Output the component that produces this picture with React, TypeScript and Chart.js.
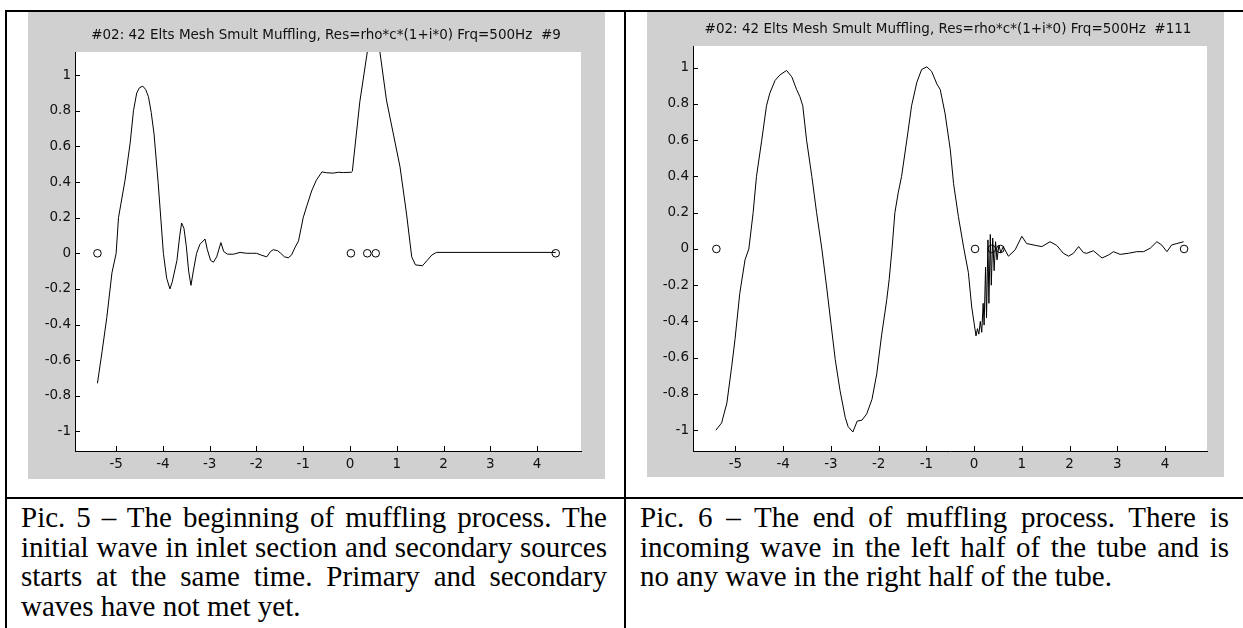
import React, { useEffect, useRef } from "react";
import { Chart, registerables } from "chart.js";

Chart.register(...registerables);

// ---------- data ----------
const Y_TICKS = [-1, -0.8, -0.6, -0.4, -0.2, 0, 0.2, 0.4, 0.6, 0.8, 1];
const X_TICKS = [-5, -4, -3, -2, -1, 0, 1, 2, 3, 4];

const SOURCE_X = [-5.4, 0.02, 0.37, 0.55, 4.4];
const SOURCE_Y = [0, 0, 0, 0, 0];

const LEFT_TITLE = "#02: 42 Elts Mesh Smult Muffling, Res=rho*c*(1+i*0) Frq=500Hz  #9";
const RIGHT_TITLE = "#02: 42 Elts Mesh Smult Muffling, Res=rho*c*(1+i*0) Frq=500Hz  #111";

const LEFT_X = [
  -5.4, -5.3, -5.2, -5.09, -5.0, -4.95, -4.81, -4.7, -4.63, -4.56, -4.5, -4.43, -4.37, -4.31,
  -4.25, -4.19, -4.1, -3.99, -3.92, -3.85, -3.8, -3.7, -3.64, -3.6, -3.55, -3.5, -3.45, -3.4,
  -3.35, -3.28, -3.21, -3.1, -3.05, -2.98, -2.92, -2.85, -2.76, -2.7, -2.62, -2.49, -2.35, -2.21,
  -2.1, -2.0, -1.9, -1.78, -1.7, -1.64, -1.55, -1.48, -1.4, -1.32, -1.25, -1.18, -1.1, -1.0,
  -0.93, -0.82, -0.72, -0.6, -0.5, -0.36, -0.25, -0.14, 0.03, 0.05, 0.21, 0.37, 0.5, 0.64, 0.78,
  1.07, 1.21, 1.32, 1.4, 1.55, 1.65, 1.75, 1.85, 4.4,
];
const LEFT_Y = [
  -0.73, -0.55, -0.36, -0.11, 0.0, 0.2, 0.41, 0.62, 0.8, 0.9, 0.93, 0.938, 0.92, 0.88,
  0.79, 0.67, 0.39, 0.0, -0.14, -0.2, -0.16, -0.04, 0.1, 0.17, 0.14, 0.04, -0.1, -0.18,
  -0.1, 0.0, 0.05, 0.08, 0.02, -0.04, -0.05, -0.02, 0.06, 0.01, -0.005, -0.005, 0.005, 0.0,
  0.0, 0.0, -0.01, -0.02, 0.01, 0.02, 0.015, 0.0, -0.02, -0.025, -0.01, 0.03, 0.07, 0.2,
  0.26, 0.35, 0.41, 0.457, 0.452, 0.45, 0.455, 0.453, 0.455, 0.46, 0.85, 1.13, 1.4, 1.13, 0.86,
  0.485, 0.22, -0.02, -0.065, -0.07, -0.04, -0.01, 0.005, 0.005,
];

const RIGHT_X = [
  -5.41, -5.29, -5.18, -5.08, -5.01, -4.91, -4.8, -4.72, -4.63, -4.56, -4.45, -4.35, -4.28, -4.17,
  -4.07, -3.93, -3.82, -3.72, -3.65, -3.59, -3.51, -3.4, -3.3, -3.19, -3.09, -3.0, -2.91, -2.81,
  -2.7, -2.64, -2.54, -2.45, -2.35, -2.25, -2.14, -2.04, -1.94, -1.83, -1.78, -1.72, -1.66, -1.59,
  -1.52, -1.41, -1.31, -1.2, -1.1, -0.99, -0.89, -0.78, -0.71, -0.61, -0.5, -0.43, -0.33, -0.22,
  -0.12, -0.05, 0.04, 0.07, 0.1, 0.13, 0.16, 0.19, 0.21, 0.24, 0.26, 0.29, 0.31, 0.34, 0.36,
  0.39, 0.42, 0.45, 0.48, 0.52, 0.56, 0.61, 0.72, 0.86, 1.0, 1.1, 1.28, 1.42, 1.59, 1.73, 1.87,
  1.98, 2.08, 2.19, 2.29, 2.36, 2.5, 2.68, 2.82, 2.92, 3.06, 3.23, 3.41, 3.55, 3.69, 3.83, 3.93,
  4.04, 4.14, 4.25, 4.39,
];
const RIGHT_Y = [
  -1.0, -0.96, -0.85, -0.65, -0.5, -0.245, -0.06, 0.0, 0.2, 0.4, 0.6, 0.79, 0.86, 0.93,
  0.96, 0.985, 0.95, 0.88, 0.84, 0.79, 0.6, 0.4, 0.2, 0.0, -0.21, -0.41, -0.61, -0.78,
  -0.93, -0.98, -1.01, -0.95, -0.945, -0.91, -0.83, -0.69, -0.48, -0.28, -0.17, 0.0, 0.2, 0.31,
  0.4, 0.6, 0.79, 0.92, 0.99, 1.005, 0.98, 0.91, 0.88, 0.75, 0.55, 0.36, 0.18, 0.01,
  -0.13, -0.32, -0.48, -0.44, -0.47, -0.4, -0.46, -0.3, -0.42, -0.1, -0.38, 0.05, -0.3, 0.08, -0.2,
  0.06, -0.12, 0.04, -0.06, 0.02, -0.02, 0.013, -0.04, -0.005, 0.07, 0.03, 0.02, 0.013, 0.04, 0.02, -0.024,
  -0.04, -0.024, 0.013, -0.02, -0.024, -0.01, -0.05, -0.033, -0.015, -0.03, -0.024, -0.015, -0.015, 0.004, 0.04, 0.022,
  -0.015, 0.022, 0.03, 0.04,
];

const CAPTION_LEFT = [
  "Pic. 5 – The beginning of muffling process. The",
  "initial wave in inlet section and secondary sources",
  "starts at the same time. Primary and secondary",
  "waves have not met yet.",
];
const CAPTION_RIGHT = [
  "Pic. 6 – The end of muffling process. There is",
  "incoming wave in the left half of the tube and is",
  "no any wave in the right half of the tube.",
];

// ---------- chart ----------
const SANS = "'DejaVu Sans', 'Liberation Sans', Arial, sans-serif";
const fmt = (v: number) => String(Math.round(v * 10) / 10);

type PlotProps = {
  title: string;
  xs: number[];
  ys: number[];
  xMin: number;
  xMax: number;
  yMin: number;
  yMax: number;
  left: number;
  top: number;
  width: number;
  height: number;
  padTop: number;
  padRight: number;
  yAxisW: number;
  xAxisH: number;
  titleY: number;
};

function Plot(p: PlotProps) {
  const ref = useRef<HTMLCanvasElement | null>(null);
  useEffect(() => {
    const canvas = ref.current;
    if (!canvas) return;
    const matlab = {
      id: "matlab",
      beforeDraw(chart: any) {
        const { ctx, chartArea: a } = chart;
        ctx.save();
        ctx.fillStyle = "#ffffff";
        ctx.fillRect(a.left, a.top, a.right - a.left, a.bottom - a.top);
        ctx.restore();
      },
      afterDraw(chart: any) {
        const { ctx, chartArea: a, scales } = chart;
        ctx.save();
        ctx.strokeStyle = "#000";
        ctx.lineWidth = 1;
        ctx.beginPath();
        for (const v of Y_TICKS) {
          const py = Math.round(scales.y.getPixelForValue(v)) + 0.5;
          ctx.moveTo(a.left, py);
          ctx.lineTo(a.left + 5, py);
        }
        for (const v of X_TICKS) {
          const px = Math.round(scales.x.getPixelForValue(v)) + 0.5;
          ctx.moveTo(px, a.bottom);
          ctx.lineTo(px, a.bottom - 5);
        }
        ctx.stroke();
        ctx.fillStyle = "#111";
        ctx.font = `13.5px ${SANS}`;
        ctx.textAlign = "center";
        ctx.textBaseline = "middle";
        ctx.fillText(p.title, (a.left + a.right) / 2 - 2, p.titleY);
        ctx.restore();
      },
    };
    const chart = new Chart(canvas, {
      type: "scatter",
      data: {
        datasets: [
          {
            data: p.xs.map((x, i) => ({ x, y: p.ys[i] })),
            showLine: true,
            borderColor: "#000",
            borderWidth: 1,
            pointRadius: 0,
            tension: 0,
          },
          {
            data: SOURCE_X.map((x, i) => ({ x, y: SOURCE_Y[i] })),
            showLine: false,
            borderColor: "#000",
            backgroundColor: "rgba(0,0,0,0)",
            borderWidth: 1,
            pointRadius: 3.8,
          },
        ],
      },
      options: {
        animation: false,
        responsive: false,
        maintainAspectRatio: false,
        events: [],
        layout: { padding: { top: p.padTop, right: p.padRight, left: 0, bottom: 0 } },
        plugins: { legend: { display: false }, tooltip: { enabled: false }, title: { display: false } },
        scales: {
          x: {
            type: "linear",
            min: p.xMin,
            max: p.xMax,
            afterBuildTicks: (s: any) => {
              s.ticks = X_TICKS.map((v) => ({ value: v }));
            },
            afterFit: (s: any) => {
              s.height = p.xAxisH;
            },
            grid: { display: false, drawTicks: false },
            border: { display: true, color: "#000", width: 1 },
            ticks: {
              padding: 5,
              color: "#111",
              autoSkip: false,
              maxRotation: 0,
              font: { family: SANS, size: 13.5 },
              callback: (v: any) => fmt(Number(v)),
            },
          },
          y: {
            type: "linear",
            min: p.yMin,
            max: p.yMax,
            afterBuildTicks: (s: any) => {
              s.ticks = Y_TICKS.map((v) => ({ value: v }));
            },
            afterFit: (s: any) => {
              s.width = p.yAxisW;
            },
            grid: { display: false, drawTicks: false },
            border: { display: true, color: "#000", width: 1 },
            ticks: {
              padding: 4,
              color: "#111",
              autoSkip: false,
              font: { family: SANS, size: 13.5 },
              callback: (v: any) => fmt(Number(v)),
            },
          },
        },
      },
      plugins: [matlab],
    } as any);
    return () => chart.destroy();
  }, []);
  return (
    <canvas
      ref={ref}
      width={p.width}
      height={p.height}
      style={{
        position: "absolute",
        left: p.left,
        top: p.top,
        width: p.width,
        height: p.height,
        background: "#d0d0d0",
      }}
    />
  );
}

function Caption({ lines, left, width }: { lines: string[]; left: number; width: number }) {
  return (
    <div
      style={{
        position: "absolute",
        left,
        top: 503,
        width,
        fontFamily: "'Liberation Serif', 'Times New Roman', serif",
        fontSize: 29,
        lineHeight: "29.5px",
        color: "#000",
      }}
    >
      {lines.map((t, i) => (
        <div
          key={i}
          style={{
            textAlign: i === lines.length - 1 ? "left" : "justify",
            textAlignLast: i === lines.length - 1 ? "left" : "justify",
            height: 29.5,
          } as any}
        >
          {t}
        </div>
      ))}
    </div>
  );
}

export default function App() {
  const line = (l: number, t: number, w: number, h: number) => (
    <div style={{ position: "absolute", left: l, top: t, width: w, height: h, background: "#000" }} />
  );
  return (
    <div
      style={{
        position: "fixed",
        left: 0,
        top: 0,
        width: 1243,
        height: 628,
        background: "#fff",
        overflow: "hidden",
      }}
    >
      {line(5, 10, 1238, 2)}
      {line(5, 10, 2, 618)}
      {line(624, 10, 2, 618)}
      {line(5, 497, 1238, 2)}
      <Plot
        title={LEFT_TITLE}
        xs={LEFT_X}
        ys={LEFT_Y}
        xMin={-5.88}
        xMax={4.94}
        yMin={-1.11}
        yMax={1.13}
        left={28}
        top={12}
        width={577}
        height={467}
        padTop={40}
        padRight={24}
        yAxisW={47}
        xAxisH={28}
        titleY={23}
      />
      <Plot
        title={RIGHT_TITLE}
        xs={RIGHT_X}
        ys={RIGHT_Y}
        xMin={-5.89}
        xMax={4.88}
        yMin={-1.115}
        yMax={1.12}
        left={647}
        top={12}
        width={577}
        height={465}
        padTop={34}
        padRight={17}
        yAxisW={46}
        xAxisH={26}
        titleY={17}
      />
      <Caption lines={CAPTION_LEFT} left={21} width={586} />
      <Caption lines={CAPTION_RIGHT} left={640} width={589} />
    </div>
  );
}
